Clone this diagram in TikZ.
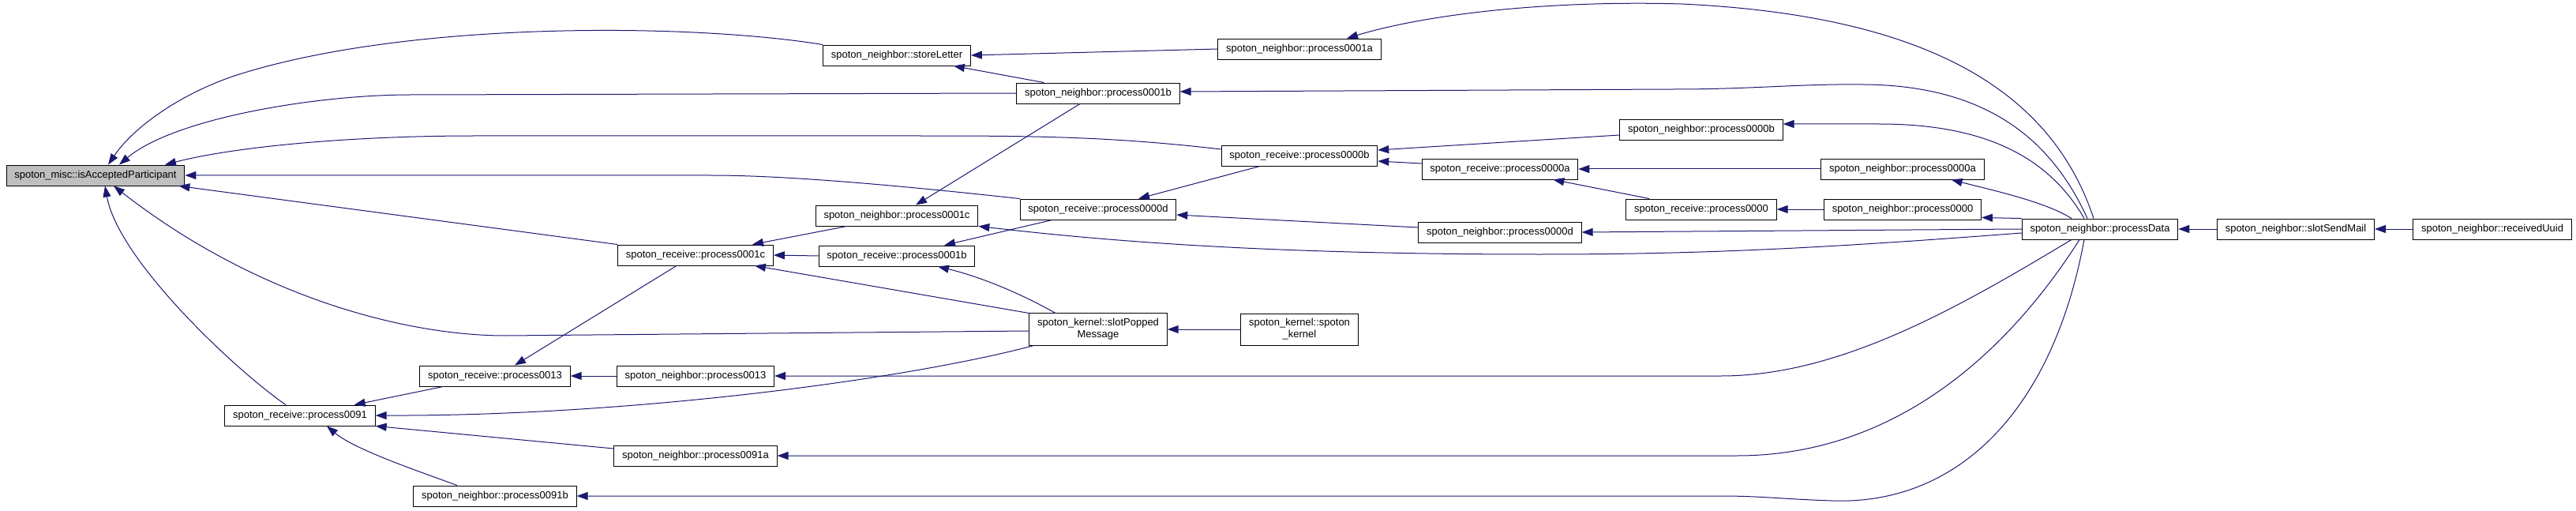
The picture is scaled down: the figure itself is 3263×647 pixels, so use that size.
\documentclass[tikz,border=0pt]{standalone}
\usepackage{fontspec}
\setmainfont{Liberation Sans}
\usepackage{tikz}
\usetikzlibrary{arrows.meta}
\definecolor{edgeblue}{HTML}{191970}
\definecolor{rootgray}{HTML}{BFBFBF}

\begin{document}
\begin{tikzpicture}[x=1pt, y=-1pt,
  fn/.style={draw=black, line width=0.9pt, fill=white, font=\fontsize{13}{15}\selectfont,
    inner xsep=10.3pt, inner ysep=6.5pt, minimum height=26pt, align=center},
  root/.style={fn, fill=rootgray},
  call/.style={draw=edgeblue, line width=1pt, -{Triangle[length=14pt, width=10pt]}}]
\useasboundingbox (0,0) rectangle (3263,647);

\node[root] (iap) at (121,222) {spoton\_misc::isAcceptedParticipant};
\node[fn] (r0091) at (380,526) {spoton\_receive::process0091};
\node[fn] (r0013) at (627,476) {spoton\_receive::process0013};
\node[fn] (n0091b) at (627,628) {spoton\_neighbor::process0091b};
\node[fn] (r0001c) at (881,323) {spoton\_receive::process0001c};
\node[fn] (n0013) at (881,476) {spoton\_neighbor::process0013};
\node[fn] (n0091a) at (881,577) {spoton\_neighbor::process0091a};
\node[fn] (sl) at (1136,70) {spoton\_neighbor::storeLetter};
\node[fn] (n0001c) at (1136,273) {spoton\_neighbor::process0001c};
\node[fn] (r0001b) at (1136,324) {spoton\_receive::process0001b};
\node[fn] (n0001b) at (1391,118) {spoton\_neighbor::process0001b};
\node[fn] (r0000d) at (1391,265) {spoton\_receive::process0000d};
\node[fn] (spm) at (1391,417) {spoton\_kernel::slotPopped\\Message};
\node[fn] (n0001a) at (1646,62) {spoton\_neighbor::process0001a};
\node[fn] (r0000b) at (1646,197) {spoton\_receive::process0000b};
\node[fn] (sk) at (1646,417) {spoton\_kernel::spoton\\\_kernel};
\node[fn] (r0000a) at (1900,214) {spoton\_receive::process0000a};
\node[fn] (n0000d) at (1900,294) {spoton\_neighbor::process0000d};
\node[fn] (n0000b) at (2155,164) {spoton\_neighbor::process0000b};
\node[fn] (r0000) at (2155,265) {spoton\_receive::process0000};
\node[fn] (n0000a) at (2410,214) {spoton\_neighbor::process0000a};
\node[fn] (n0000) at (2410,265) {spoton\_neighbor::process0000};
\node[fn] (pd) at (2660,290) {spoton\_neighbor::processData};
\node[fn] (ssm) at (2908,290) {spoton\_neighbor::slotSendMail};
\node[fn] (ru) at (3157,290) {spoton\_neighbor::receivedUuid};

\draw[call] (sl.north west) .. controls (880,30) and (520,25) .. (300,95) .. controls (230,118) and (170,160) .. ([xshift=16pt]iap.north);
\draw[call] (n0001b.west) -- (520,120) .. controls (400,120) and (220,150) .. ([xshift=30pt]iap.north);
\draw[call] ([yshift=8pt]r0000b.west) .. controls (1400,172) and (1300,172) .. (1150,172) -- (600,172) .. controls (450,172) and (300,185) .. ([xshift=88pt]iap.north);
\draw[call] (r0000d.north west) .. controls (1150,236) and (1000,222) .. (900,222) -- (iap.east);
\draw[call] (r0001c.north west) -- ([xshift=-8pt]iap.south east);
\draw[call] ([yshift=-2pt]spm.west) -- (640,425) .. controls (520,425) and (330,380) .. ([xshift=23pt]iap.south);
\draw[call] ([xshift=-18pt]r0091.north) .. controls (300,470) and (150,330) .. ([xshift=12pt]iap.south);

\draw[call] ([xshift=40pt]n0001c.south west) -- ([xshift=-27pt]r0001c.north east);
\draw[call] (r0001b.west) -- (r0001c.east);
\draw[call] (spm.north west) -- ([xshift=-24pt]r0001c.south east);
\draw[call] ([xshift=-24pt]r0001c.south) -- ([xshift=25pt]r0013.north);
\draw[call] (n0013) -- (r0013);
\draw[call] ([xshift=30pt]r0013.south west) -- ([xshift=-27pt]r0091.north east);
\draw[call] ([xshift=6pt]spm.south west) .. controls (1150,480) and (800,527) .. (r0091.east);
\draw[call] ([yshift=9pt]n0091a.west) -- (r0091.south east);
\draw[call] ([xshift=-48pt]n0091b.north) .. controls (540,600) and (450,570) .. ([xshift=34pt]r0091.south);

\draw[call] (n0001a.west) -- (sl.east);
\draw[call] ([xshift=35pt]n0001b.north west) -- ([xshift=-22pt]sl.south east);
\draw[call] ([xshift=-23pt]n0001b.south) -- ([xshift=24pt]n0001c.north);
\draw[call] ([xshift=-58pt]r0000d.south) -- ([xshift=60pt]r0001b.north);
\draw[call] ([xshift=-54pt]spm.north) .. controls (1290,370) and (1240,350) .. ([xshift=52pt]r0001b.south);
\draw[call] (sk) -- (spm);
\draw[call] ([xshift=-50pt]r0000b.south) -- ([xshift=51pt]r0000d.north);
\draw[call] ([yshift=6pt]n0000d.west) -- ([yshift=-7pt]r0000d.east);
\draw[call] ([yshift=-7pt]n0000b.west) -- ([yshift=7pt]r0000b.east);
\draw[call] ([yshift=7pt]r0000a.west) -- ([yshift=-7pt]r0000b.east);
\draw[call] (n0000a) -- (r0000a);
\draw[call] ([xshift=30pt]r0000.north west) -- ([xshift=-32pt]r0000a.south east);
\draw[call] (n0000) -- (r0000);

\draw[call] ([xshift=-8pt]pd.north) .. controls (2600,120) and (2450,20) .. (2130,5) .. controls (1950,0) and (1800,20) .. ([xshift=60pt]n0001a.north);
\draw[call] ([xshift=-16pt]pd.north) .. controls (2600,180) and (2520,108) .. (2360,107) .. controls (2280,106) and (2220,113) .. (2120,113) -- ([yshift=2pt]n0001b.east);
\draw[call] ([xshift=-20pt]pd.north) .. controls (2590,190) and (2500,157) .. (2380,157) -- ([yshift=7pt]n0000b.east);
\draw[call] ([xshift=-36pt]pd.north) .. controls (2590,255) and (2520,240) .. ([xshift=-42pt]n0000a.south east);
\draw[call] (pd.north west) -- ([yshift=3pt]n0000.south east);
\draw[call] (pd.west) -- (n0000d.east);
\draw[call] ([yshift=-5pt]pd.west) .. controls (2300,315) and (2150,322) .. (1950,322) .. controls (1600,322) and (1400,305) .. (n0001c.south east);
\draw[call] ([xshift=-36pt]pd.south) .. controls (2480,390) and (2330,476) .. (2180,476) -- (n0013.east);
\draw[call] ([xshift=-26pt]pd.south) .. controls (2560,420) and (2420,577) .. (2200,577) -- (n0091a.east);
\draw[call] ([xshift=-20pt]pd.south) .. controls (2600,520) and (2480,640) .. (2320,634) .. controls (2260,632) and (2230,628) .. (2180,628) -- (n0091b.east);
\draw[call] (ssm) -- (pd);
\draw[call] (ru) -- (ssm);
\end{tikzpicture}
\end{document}
